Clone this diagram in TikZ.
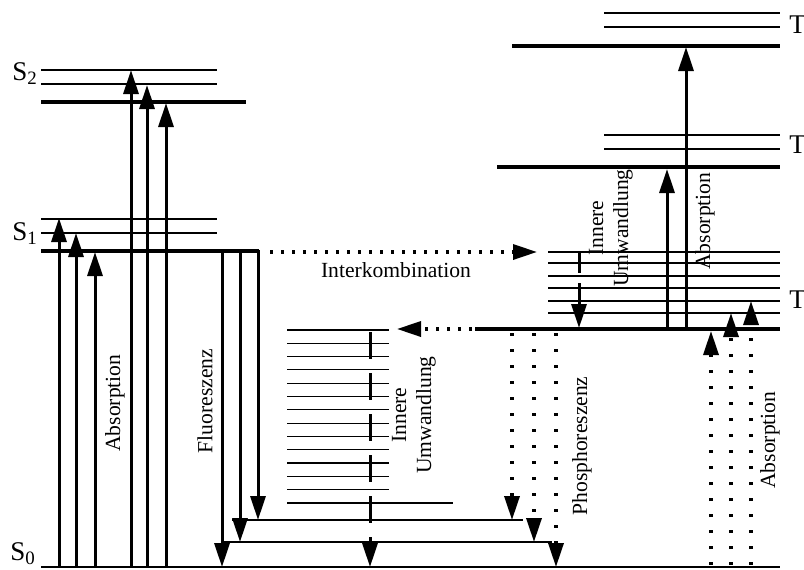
\documentclass[tikz,border=0pt]{standalone}
\usepackage{fontspec}
\setmainfont{Liberation Serif}
\usetikzlibrary{arrows.meta}
\begin{document}
\begin{tikzpicture}[x=0.5pt,y=-0.5pt,
  thinlevel/.style={line width=0.55pt},
  thicklevel/.style={line width=2.1pt},
  arr/.style={line width=1.5pt,-{Triangle[length=12pt,width=7.5pt]}},
  dotsh/.style={arr, line width=1.7pt, dash pattern=on 1.7pt off 3.8pt},
  dotsv/.style={arr, line width=1.7pt, dash pattern=on 1.6pt off 6.4pt},
  lbl/.style={font=\fontsize{10.8}{12.5}\selectfont, inner sep=0pt},
  vlbl/.style={lbl, rotate=90, align=center},
  statelbl/.style={font=\fontsize{13.5}{15}\selectfont, inner sep=0pt, anchor=base west}]
\useasboundingbox (0,0) rectangle (804,569);

% ---------- S0 ----------
\draw[line width=1pt] (41,567) -- (780,567);
\draw[thinlevel] (223,542) -- (552,542);
\draw[thinlevel] (232,520) -- (523,520);
\foreach \i in {0,...,12}
  \draw[thinlevel] (287,{330+13.3*\i}) -- (389,{330+13.3*\i});
\draw[thinlevel] (287,503) -- (453,503);

% ---------- S1 ----------
\draw[thinlevel] (41,219) -- (217,219);
\draw[thinlevel] (41,233) -- (217,233);
\draw[thicklevel] (41,251) -- (259,251);

% ---------- S2 ----------
\draw[thinlevel] (41,70) -- (217,70);
\draw[thinlevel] (41,84) -- (217,84);
\draw[thicklevel] (41,102) -- (246,102);

% ---------- T1 ----------
\foreach \y in {252,263,276,288,301,313}
  \draw[thinlevel] (548,\y) -- (780,\y);
\draw[thicklevel] (475,329) -- (780,329);

% ---------- T2 ----------
\draw[thinlevel] (604,135) -- (780,135);
\draw[thinlevel] (604,149) -- (780,149);
\draw[thicklevel] (497,167) -- (780,167);

% ---------- T3 ----------
\draw[thinlevel] (604,13) -- (780,13);
\draw[thinlevel] (604,27) -- (780,27);
\draw[thicklevel] (512,46) -- (780,46);

% ---------- state labels ----------
\node[statelbl] (s2) at (12,80) {S\textsubscript{2}};
\node[statelbl] (s1) at (12,240) {S\textsubscript{1}};
\node[statelbl] (s0) at (10,560) {S\textsubscript{0}};
\node[statelbl] (t3) at (789,33) {T\textsubscript{3}};
\node[statelbl] (t2) at (789,153) {T\textsubscript{2}};
\node[statelbl] (t1) at (789,308) {T\textsubscript{1}};

% ---------- absorption S0 -> S1, S2 ----------
\draw[arr] (59,567) -- (59,218);
\draw[arr] (76,567) -- (76,233);
\draw[arr] (95,567) -- (95,252);
\draw[arr] (131,567) -- (131,70);
\draw[arr] (147,567) -- (147,85);
\draw[arr] (166,567) -- (166,103);

% ---------- fluorescence ----------
\draw[arr] (222,250) -- (222,567);
\draw[arr] (240,250) -- (240,542);
\draw[arr] (258,250) -- (258,520);

% ---------- intersystem crossing ----------
\draw[dotsh] (270,252) -- (537,252);
\draw[dotsh] (472,329) -- (397,329);

% ---------- internal conversion ----------
\draw[arr, dash pattern=on 10.5pt off 5pt] (579,252) -- (579,328);
\draw[arr, dash pattern=on 13.5pt off 7pt] (370,332) -- (370,567);

% ---------- phosphorescence ----------
\draw[dotsv] (512,333) -- (512,520);
\draw[dotsv] (534,333) -- (534,542);
\draw[dotsv] (556,333) -- (556,567);

% ---------- triplet absorption ----------
\draw[arr] (667,329) -- (667,169);
\draw[arr] (686,329) -- (686,47);

% ---------- absorption S0 -> T1 ----------
\draw[dotsv] (711,565) -- (711,331);
\draw[dotsv] (731,565) -- (731,313);
\draw[dotsv] (751,565) -- (751,301);

% ---------- labels ----------
\node[vlbl] (labsL) at (115,403) {Absorption};
\node[vlbl] (lflu) at (205,401) {Fluoreszenz};
\node[lbl] (lisc) at (396,270) {Interkombination};
\node[vlbl] (licR) at (611,228) {Innere\\Umwandlung};
\node[vlbl] (labsT) at (705,221) {Absorption};
\node[vlbl] (licL) at (414,415) {Innere\\Umwandlung};
\node[vlbl] (lpho) at (582,446) {Phosphoreszenz};
\node[vlbl] (labsR) at (770,440) {Absorption};
\end{tikzpicture}
\end{document}
